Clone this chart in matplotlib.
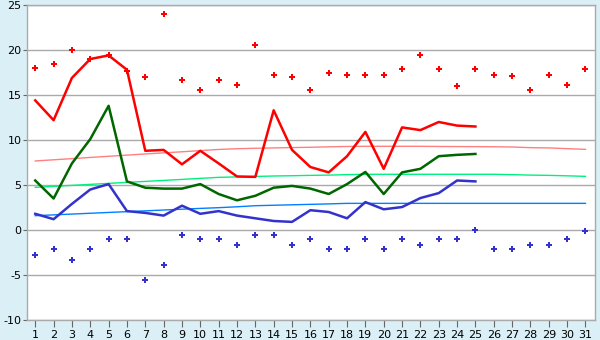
import matplotlib
matplotlib.use("Agg")
import matplotlib.pyplot as plt

# days of the month
days = list(range(1, 32))

# measured series (days 1-25)
max_line = [14.4, 12.2, 16.9, 19.0, 19.4, 17.8, 8.8, 8.9, 7.3, 8.8,
            7.4, 5.95, 5.9, 13.3, 8.9, 7.0, 6.4, 8.2, 10.9, 6.8,
            11.4, 11.1, 12.0, 11.6, 11.5]
mean_line = [5.5, 3.5, 7.4, 10.1, 13.8, 5.4, 4.7, 4.6, 4.6, 5.1,
             4.0, 3.3, 3.8, 4.7, 4.9, 4.6, 4.0, 5.1, 6.45, 4.0,
             6.4, 6.8, 8.2, 8.35, 8.45]
min_line = [1.8, 1.2, 2.9, 4.5, 5.1, 2.1, 1.9, 1.6, 2.7, 1.8,
            2.1, 1.6, 1.3, 1.0, 0.9, 2.2, 2.0, 1.3, 3.1, 2.3,
            2.55, 3.55, 4.1, 5.5, 5.4]

# record values (all 31 days)
max_record = [18.0, 18.5, 20.0, 19.0, 19.4, 17.7, 17.0, 24.0, 16.7, 15.6,
              16.7, 16.1, 20.6, 17.2, 17.0, 15.6, 17.4, 17.2, 17.2, 17.2,
              17.9, 19.4, 17.9, 16.0, 17.9, 17.2, 17.1, 15.6, 17.2, 16.1, 17.9]
min_record = [-2.8, -2.1, -3.3, -2.1, -1.0, -1.0, -5.6, -3.9, -0.6, -1.0,
              -1.0, -1.7, -0.6, -0.6, -1.7, -1.0, -2.1, -2.1, -1.0, -2.1,
              -1.0, -1.7, -1.0, -1.0, 0.0, -2.1, -2.1, -1.7, -1.7, -1.0, -0.1]

# normals (all 31 days)
max_normal = [7.67, 7.80, 7.93, 8.06, 8.19, 8.32, 8.45, 8.57, 8.69, 8.82,
              8.95, 9.03, 9.08, 9.12, 9.16, 9.19, 9.24, 9.28, 9.30, 9.30,
              9.30, 9.30, 9.28, 9.27, 9.26, 9.25, 9.22, 9.15, 9.12, 9.04, 8.96]
mean_normal = [4.74, 4.85, 4.96, 5.07, 5.18, 5.29, 5.40, 5.51, 5.62, 5.74,
               5.85, 5.90, 5.95, 6.0, 6.03, 6.07, 6.10, 6.15, 6.19, 6.19,
               6.19, 6.19, 6.19, 6.19, 6.19, 6.19, 6.15, 6.10, 6.07, 6.02, 5.96]
min_normal = [1.59, 1.68, 1.77, 1.86, 1.95, 2.04, 2.13, 2.22, 2.31, 2.40,
              2.48, 2.58, 2.70, 2.75, 2.80, 2.85, 2.90, 2.96, 2.96, 2.96,
              2.96, 2.96, 2.96, 2.96, 2.96, 2.96, 2.96, 2.96, 2.96, 2.96, 2.96]

plt.rcParams['font.family'] = ['DejaVu Sans']
plt.rcParams['axes.unicode_minus'] = False

bg = "#daeff6"
fig = plt.figure(figsize=(6, 3.4), dpi=100, facecolor=bg)
ax = fig.add_axes([27 / 600, 20 / 340, 568 / 600, 315 / 340])
ax.set_facecolor("white")

d25 = days[:25]

# normals
ax.plot(days, max_normal, color="#ff8080", lw=1.0)
ax.plot(days, mean_normal, color="#00f080", lw=1.0)
ax.plot(days, min_normal, color="#0080ff", lw=1.0)

# daily values
ax.plot(d25, max_line, color="#ff0000", lw=1.8)
ax.plot(d25, mean_line, color="#006600", lw=1.8)
ax.plot(d25, min_line, color="#3333cc", lw=1.8)

# records
ax.plot(days, max_record, ls="none", marker="P", ms=4, mew=0, color="#ff0000")
ax.plot(days, min_record, ls="none", marker="P", ms=4, mew=0, color="#3333cc")

ax.set_xlim(0.55, 31.52)
ax.set_ylim(-10, 25)
ax.set_xticks(days)
ax.set_yticks(range(-10, 26, 5))
ax.yaxis.grid(True, color="#aaaaaa", lw=1.0)
ax.set_axisbelow(True)
for s in ax.spines.values():
    s.set_color("#aaaaaa")
    s.set_linewidth(1.0)
ax.tick_params(axis="x", length=5, color="#666666", labelsize=8, pad=2)
ax.tick_params(axis="y", length=3, color="#666666", labelsize=8, pad=1)

fig.savefig("out.png", dpi=100, facecolor=bg)
